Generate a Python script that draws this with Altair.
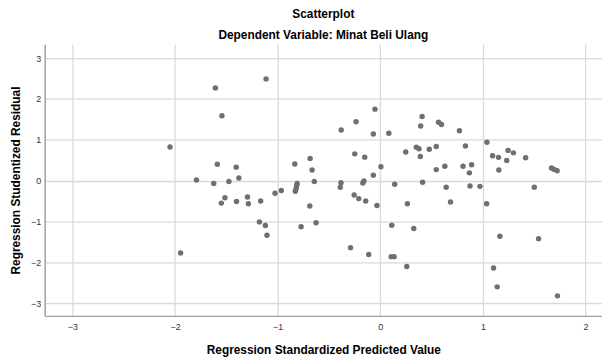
import altair as alt
import pandas as pd

pred = [-2.049, -1.946, -1.791, -1.623, -1.607, -1.588, -1.543, -1.549, -1.514, -1.475,
        -1.404, -1.401, -1.378, -1.294, -1.285, -1.178, -1.166, -1.12, -1.113, -1.104,
        -1.026, -0.965, -0.833, -0.81, -0.815, -0.82, -0.828, -0.772, -0.687, -0.684,
        -0.665, -0.643, -0.626, -0.381, -0.383, -0.39, -0.29, -0.255, -0.249, -0.236,
        -0.21, -0.16, -0.17, -0.152, -0.142, -0.113, -0.068, -0.068, -0.052, -0.033,
        0.006, 0.083, 0.106, 0.112, 0.135, 0.14, 0.248, 0.258, 0.264, 0.326,
        0.351, 0.377, 0.39, 0.393, 0.407, 0.412, 0.477, 0.545, 0.545, 0.567,
        0.596, 0.629, 0.642, 0.684, 0.771, 0.806, 0.829, 0.868, 0.874, 0.89,
        0.971, 1.036, 1.039, 1.094, 1.103, 1.139, 1.152, 1.155, 1.165, 1.232,
        1.245, 1.297, 1.416, 1.50, 1.542, 1.668, 1.694, 1.723, 1.726]
resid = [0.825, -1.77, 0.017, -0.07, 2.27, 0.40, 1.59, -0.55, -0.42, -0.02,
         0.33, -0.51, 0.065, -0.40, -0.565, -1.01, -0.50, -1.10, 2.49, -1.335,
         -0.31, -0.24, 0.405, -0.07, -0.12, -0.19, -0.26, -1.13, -0.62, 0.54,
         0.26, -0.02, -1.03, 1.24, -0.05, -0.16, -1.64, -0.35, 0.655, 1.44,
         -0.44, -0.01, -0.06, 0.575, -0.50, -1.81, 1.14, 0.13, 1.75, -0.61,
         0.34, 1.16, -1.86, -1.09, -1.86, -0.09, 0.70, -2.10, -0.565, -1.17,
         0.82, 0.78, 0.59, 1.335, 1.57, -0.04, 0.77, 0.835, 0.27, 1.43,
         1.375, 0.35, -0.16, -0.525, 1.22, 0.35, 0.85, 0.19, -0.13, 0.39,
         -0.14, -0.565, 0.94, 0.61, -2.14, -2.60, 0.57, 0.26, -1.36, 0.495,
         0.74, 0.68, 0.56, -0.16, -1.42, 0.31, 0.275, 0.24, -2.82]

x_ticks = [-3, -2, -1, 0, 1, 2]
y_ticks = [-3, -2, -1, 0, 1, 2, 3]

df = pd.DataFrame({"pred": pred, "resid": resid})

chart = alt.Chart(df).mark_circle(size=30, color="#6f6f6f", opacity=1).encode(
    x=alt.X("pred:Q",
            scale=alt.Scale(domain=[-3.27, 2.16], nice=False, zero=False),
            axis=alt.Axis(values=x_ticks, title="Regression Standardized Predicted Value",
                          format="d", titlePadding=13, labelPadding=7)),
    y=alt.Y("resid:Q",
            scale=alt.Scale(domain=[-3.31, 3.34], nice=False, zero=False),
            axis=alt.Axis(values=y_ticks, title="Regression Studentized Residual",
                          format="d", titlePadding=8, labelPadding=4)),
).properties(
    width=562,
    height=274,
    autosize=alt.AutoSizeParams(type="none"),
    padding={"left": 37, "top": 35, "right": 0, "bottom": 40},
    title=alt.TitleParams(
        "Scatterplot",
        subtitle="Dependent Variable: Minat Beli Ulang",
        anchor="middle",
        font="Liberation Sans",
        fontSize=12,
        fontWeight="bold",
        color="#000000",
        subtitleFont="Liberation Sans",
        subtitleFontSize=12,
        subtitleFontWeight="bold",
        subtitleColor="#000000",
        subtitlePadding=9,
        offset=2,
    ),
).configure_view(stroke=None).configure_axis(
    grid=True,
    gridColor="#dadada",
    gridWidth=1.3,
    domainColor="#a0a0a0",
    domainWidth=1.5,
    ticks=False,
    labelFont="Liberation Sans",
    labelFontSize=9,
    labelColor="#333333",
    titleFont="Liberation Sans",
    titleFontSize=12,
    titleFontWeight="bold",
    titleColor="#000000",
)

chart.save("out.html", embed_options={"renderer": "svg", "actions": False})
